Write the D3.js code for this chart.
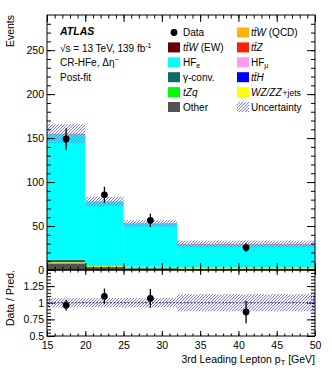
<!DOCTYPE html>
<html>
<head>
<meta charset="utf-8">
<script src="https://cdn.jsdelivr.net/npm/d3@7"></script>
<style>
  body { margin: 0; background: #fff; }
  text { font-family: "Liberation Sans", Arial, Helvetica, sans-serif; }
</style>
</head>
<body>
<script>
// BIN EDGES (GeV)
var binLo = [15, 20, 25, 32];
var binHi = [20, 25, 32, 50];

// DATA
var dataVals = [149, 85.5, 56.5, 25.5];
var dataErrs = [12.2, 9.2, 7.5, 5.0];

// BACKGROUND PROCESSES (POST-FIT), BOTTOM TO TOP
var other  = [7.5, 3.5, 2.0, 1.5];
var tZq    = [0.3, 0.3, 0.3, 0.2];
var wzzz   = [1.0, 1.0, 0.8, 0.6];
var ttH    = [0.1, 0.1, 0.1, 0.1];
var gconv  = [2.5, 0.5, 0.3, 0.2];
var hfMu   = [0.2, 0.2, 0.2, 0.1];
var hfE    = [142.5, 71.6, 48.5, 26.2];
var ttZ    = [0.3, 0.3, 0.4, 0.4];
var ttWEW  = [0.1, 0.1, 0.1, 0.1];
var ttWQCD = [0.5, 0.4, 0.3, 0.2];

// TOTAL UNCERTAINTY ON PREDICTION
var predUnc = [10.8, 5.4, 3.7, 3.8];

// TICK VALUES
var yMajor = [0, 50, 100, 150, 200, 250];
var rMajor = [0.5, 0.75, 1, 1.25];
var xMajor = [15, 20, 25, 30, 35, 40, 45, 50];

var procs = [
    {key: "other", vals: other, color: "#535353"},
    {key: "tZq", vals: tZq, color: "#00ff00"},
    {key: "wzzz", vals: wzzz, color: "#ffff00"},
    {key: "ttH", vals: ttH, color: "#0000ff"},
    {key: "gconv", vals: gconv, color: "#0b6b6b"},
    {key: "hfMu", vals: hfMu, color: "#ff9cef"},
    {key: "hfE", vals: hfE, color: "#00ffff"},
    {key: "ttZ", vals: ttZ, color: "#ff2200"},
    {key: "ttWEW", vals: ttWEW, color: "#660000"},
    {key: "ttWQCD", vals: ttWQCD, color: "#ffb400"}
];
var colorOf = {};
procs.forEach(p => colorOf[p.key] = p.color);

// BUILD TABLE FOR d3.stack
var table = binLo.map((lo, i) => {
    var row = {lo: lo, hi: binHi[i]};
    procs.forEach(p => row[p.key] = p.vals[i]);
    return row;
});
var stacked = d3.stack().keys(procs.map(p => p.key))(table);
var totals = table.map(r => d3.sum(procs, p => r[p.key]));

// DIMENSIONS
var W = 332, H = 375;
var L = 47, R = 315, T = 15, B1 = 270, B2 = 336;

var svg = d3.select("body").append("svg")
    .attr("width", W).attr("height", H);

// HATCH PATTERN FOR UNCERTAINTY
var defs = svg.append("defs");
var pat = defs.append("pattern")
    .attr("id", "hatch")
    .attr("patternUnits", "userSpaceOnUse")
    .attr("width", 3).attr("height", 3);
pat.append("path")
    .attr("d", "M-1,1 L1,-1 M0,3 L3,0 M2,4 L4,2")
    .style("stroke", "#7676ff")
    .style("stroke-width", "1px")
    .style("fill", "none");

// SCALES
var x = d3.scaleLinear().domain([15, 50]).range([L, R]);
var y = d3.scaleLinear().domain([0, 290]).range([B1, T]);
var yr = d3.scaleLinear().domain([0.5, 1.5]).range([B2, B1 - 0.5]);

// ---------- TOP PANEL ----------
var gTop = svg.append("g");

stacked.forEach(layer => {
    gTop.selectAll(null)
        .data(layer)
        .enter()
        .append("rect")
        .attr("x", d => x(d.data.lo))
        .attr("width", d => x(d.data.hi) - x(d.data.lo))
        .attr("y", d => y(d[1]))
        .attr("height", d => Math.max(0, y(d[0]) - y(d[1])))
        .attr("fill", colorOf[layer.key]);
});

// UNCERTAINTY BAND
gTop.selectAll(null)
    .data(table)
    .enter()
    .append("rect")
    .attr("x", (d, i) => x(d.lo))
    .attr("width", d => x(d.hi) - x(d.lo))
    .attr("y", (d, i) => y(totals[i] + predUnc[i]))
    .attr("height", (d, i) => y(totals[i] - predUnc[i]) - y(totals[i] + predUnc[i]))
    .style("fill", "url(#hatch)");

// DATA POINTS
var centers = binLo.map((lo, i) => (lo + binHi[i]) / 2);
gTop.selectAll(null)
    .data(dataVals)
    .enter()
    .append("line")
    .attr("x1", (d, i) => x(centers[i]))
    .attr("x2", (d, i) => x(centers[i]))
    .attr("y1", (d, i) => y(d + dataErrs[i]))
    .attr("y2", (d, i) => y(d - dataErrs[i]))
    .attr("stroke", "#000")
    .attr("stroke-width", 1.3);
gTop.selectAll(null)
    .data(dataVals)
    .enter()
    .append("circle")
    .attr("cx", (d, i) => x(centers[i]))
    .attr("cy", d => y(d))
    .attr("r", 3.4)
    .attr("fill", "#000");

// AXES
function minorTicks(lo, hi, step) {
    return d3.range(lo, hi + step / 2, step).map(v => +v.toFixed(4));
}
var ax = svg.append("g").attr("class", "axes");

function addAxis(axisFn, scale, ticks, size, tx, ty, labels) {
    var a = axisFn(scale).tickValues(ticks).tickSizeInner(size).tickSizeOuter(0).tickPadding(3);
    if (!labels) a.tickFormat("");
    var g = ax.append("g").attr("transform", `translate(${tx},${ty})`).call(a);
    g.select(".domain").remove();
    g.selectAll("line").attr("stroke", "#000").attr("stroke-width", 1);
    g.selectAll("text").attr("font-size", "10.5px").attr("fill", "#000")
        .style("font-family", "'Liberation Sans', Arial, sans-serif");
    return g;
}

// y ticks (top panel)
addAxis(d3.axisLeft, y, yMajor, -8, L, 0, true);
addAxis(d3.axisLeft, y, minorTicks(0, 280, 10), -4, L, 0, false);
addAxis(d3.axisRight, y, yMajor, -8, R, 0, false);
addAxis(d3.axisRight, y, minorTicks(0, 280, 10), -4, R, 0, false);
// x ticks (top panel)
addAxis(d3.axisTop, x, xMajor, -7, 0, T, false);
addAxis(d3.axisTop, x, minorTicks(15, 50, 1), -3.5, 0, T, false);
addAxis(d3.axisBottom, x, xMajor, -7, 0, B1, false);
addAxis(d3.axisBottom, x, minorTicks(15, 50, 1), -3.5, 0, B1, false);

gTop.append("rect")
    .attr("x", L).attr("y", T)
    .attr("width", R - L).attr("height", B1 - T)
    .attr("fill", "none").attr("stroke", "#000").attr("stroke-width", 1);

// ---------- RATIO PANEL ----------
var rp = svg.append("g");

// RATIO UNCERTAINTY BAND
rp.selectAll(null)
    .data(table)
    .enter()
    .append("rect")
    .attr("x", d => x(d.lo))
    .attr("width", d => x(d.hi) - x(d.lo))
    .attr("y", (d, i) => yr(1 + predUnc[i] / totals[i]))
    .attr("height", (d, i) => yr(1 - predUnc[i] / totals[i]) - yr(1 + predUnc[i] / totals[i]))
    .style("fill", "url(#hatch)");

rp.append("line")
    .attr("x1", L).attr("x2", R)
    .attr("y1", yr(1)).attr("y2", yr(1))
    .attr("stroke", "#333")
    .attr("stroke-width", 1)
    .attr("stroke-dasharray", "2,1.5");

var ratios = dataVals.map((d, i) => d / totals[i]);
rp.selectAll(null)
    .data(ratios)
    .enter()
    .append("line")
    .attr("x1", (d, i) => x(centers[i]))
    .attr("x2", (d, i) => x(centers[i]))
    .attr("y1", (d, i) => yr(d + dataErrs[i] / totals[i]))
    .attr("y2", (d, i) => yr(d - dataErrs[i] / totals[i]))
    .attr("stroke", "#000")
    .attr("stroke-width", 1.3);
rp.selectAll(null)
    .data(ratios)
    .enter()
    .append("circle")
    .attr("cx", (d, i) => x(centers[i]))
    .attr("cy", d => yr(d))
    .attr("r", 3.4)
    .attr("fill", "#000");

var rfmt = d => d === 1 ? "1" : String(d);
var rl = addAxis(d3.axisLeft, yr, rMajor, -8, L, 0, true);
rl.selectAll("text").text(rfmt);
addAxis(d3.axisLeft, yr, minorTicks(0.5, 1.5, 0.05), -4, L, 0, false);
addAxis(d3.axisRight, yr, rMajor, -8, R, 0, false);
addAxis(d3.axisRight, yr, minorTicks(0.5, 1.5, 0.05), -4, R, 0, false);
addAxis(d3.axisTop, x, xMajor, -5, 0, B1, false);
addAxis(d3.axisTop, x, minorTicks(15, 50, 1), -2.5, 0, B1, false);
var xb = addAxis(d3.axisBottom, x, xMajor, -5, 0, B2, true);
xb.selectAll("text").attr("y", 6);
addAxis(d3.axisBottom, x, minorTicks(15, 50, 1), -2.5, 0, B2, false);

rp.append("rect")
    .attr("x", L).attr("y", B1)
    .attr("width", R - L).attr("height", B2 - B1)
    .attr("fill", "none").attr("stroke", "#000").attr("stroke-width", 1);

// AXIS TITLES
var xt = svg.append("text")
    .attr("x", R).attr("y", 362.5)
    .attr("text-anchor", "end")
    .attr("font-size", "10.5px");
xt.append("tspan").text("3rd Leading Lepton p");
xt.append("tspan").attr("font-size", "7.5px").attr("dy", 2.5).text("T");
xt.append("tspan").attr("dy", -2.5).text(" [GeV]");

svg.append("text")
    .attr("transform", "rotate(-90)")
    .attr("x", -T).attr("y", 14)
    .attr("text-anchor", "end")
    .attr("font-size", "10.5px")
    .text("Events");

svg.append("text")
    .attr("transform", "rotate(-90)")
    .attr("x", -B1).attr("y", 14)
    .attr("text-anchor", "end")
    .attr("font-size", "10.5px")
    .text("Data / Pred.");

// ATLAS LABEL
svg.append("text")
    .attr("x", 60).attr("y", 35)
    .attr("font-size", "10.5px")
    .attr("font-weight", "bold")
    .attr("font-style", "italic")
    .text("ATLAS");
var l2 = svg.append("text").attr("x", 60).attr("y", 51.5).attr("font-size", "10px");
l2.append("tspan").text("\u221As = 13 TeV, 139 fb");
l2.append("tspan").attr("font-size", "7px").attr("dy", -4).text("-1");
var l3 = svg.append("text").attr("x", 60).attr("y", 66).attr("font-size", "10px");
l3.append("tspan").text("CR-HFe, \u0394\u03B7");
l3.append("tspan").attr("font-size", "7px").attr("dy", -4).text("\u2212");
svg.append("text").attr("x", 60).attr("y", 80.5).attr("font-size", "10px").text("Post-fit");

// LEGEND
var legLeft = [
    {type: "data", label: [["Data"]]},
    {type: "box", key: "ttWEW", label: [["t", "i"], ["t\u0304", "i"], ["W", "i"], [" (EW)"]]},
    {type: "box", key: "hfE", label: [["HF"], ["e", "sub"]]},
    {type: "box", key: "gconv", label: [["\u03B3-conv."]]},
    {type: "box", key: "tZq", label: [["tZq", "i"]]},
    {type: "box", key: "other", label: [["Other"]]}
];
var legRight = [
    {type: "box", key: "ttWQCD", label: [["t", "i"], ["t\u0304", "i"], ["W", "i"], [" (QCD)"]]},
    {type: "box", key: "ttZ", label: [["t", "i"], ["t\u0304", "i"], ["Z", "i"]]},
    {type: "box", key: "hfMu", label: [["HF"], ["\u03BC", "sub"]]},
    {type: "box", key: "ttH", label: [["t", "i"], ["t\u0304", "i"], ["H", "i"]]},
    {type: "box", key: "wzzz", label: [["WZ/ZZ", "i"], ["+jets", "small"]]},
    {type: "hatch", label: [["Uncertainty"]]}
];

function drawLegend(items, bx, tx) {
    items.forEach((it, i) => {
        var cy = 32.5 + i * 14.9;
        if (it.type === "data") {
            svg.append("circle").attr("cx", bx + 6).attr("cy", cy).attr("r", 3.4).attr("fill", "#000");
        } else if (it.type === "box") {
            svg.append("rect").attr("x", bx).attr("y", cy - 5).attr("width", 12).attr("height", 10)
                .attr("fill", colorOf[it.key]);
        } else {
            svg.append("rect").attr("x", bx).attr("y", cy - 5).attr("width", 12).attr("height", 10)
                .style("fill", "url(#hatch)");
        }
        var t = svg.append("text").attr("x", tx).attr("y", cy + 3.6).attr("font-size", "10px");
        it.label.forEach(p => {
            var s = t.append("tspan").text(p[0]);
            if (p[1] === "i") s.attr("font-style", "italic");
            if (p[1] === "sub") s.attr("font-size", "7px").attr("dy", 2.5);
            if (p[1] === "small") s.attr("font-size", "8.5px").attr("dx", 1);
        });
    });
}
drawLegend(legLeft, 168, 183);
drawLegend(legRight, 237, 251);
</script>
</body>
</html>
